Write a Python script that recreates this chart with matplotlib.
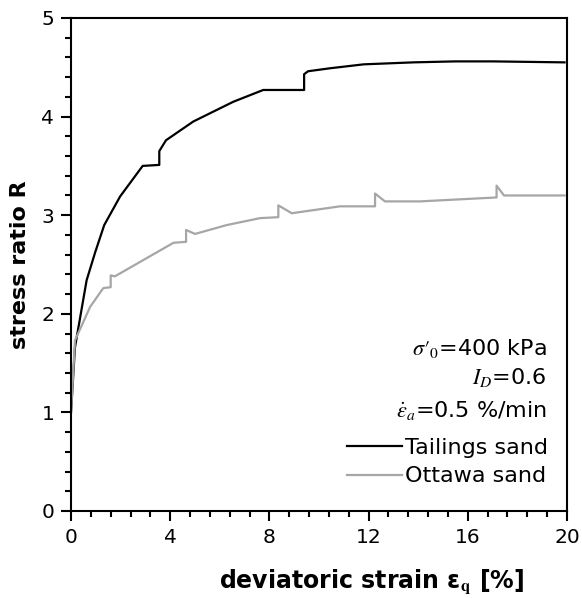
import matplotlib
matplotlib.use("Agg")
import matplotlib.pyplot as plt
from matplotlib.ticker import MultipleLocator
from matplotlib.lines import Line2D

plt.rcParams['font.family'] = ['DejaVu Sans']
plt.rcParams['mathtext.fontset'] = 'stix'

# Tailings sand (black)
tail_x = [0.0, 0.16, 0.63, 0.97, 1.34, 1.98, 2.89, 3.56, 3.56, 3.83, 4.93, 6.54,
          7.75, 9.40, 9.40, 9.56, 10.44, 11.8, 13.8, 15.5, 17.0, 19.9]
tail_y = [1.00, 1.66, 2.34, 2.62, 2.90, 3.19, 3.50, 3.51, 3.65, 3.76, 3.95, 4.15,
          4.27, 4.27, 4.43, 4.46, 4.49, 4.53, 4.55, 4.56, 4.56, 4.55]

# Ottawa sand (grey)
ott_x = [0.0, 0.16, 0.77, 1.30, 1.60, 1.60, 1.77, 4.13, 4.64, 4.64, 5.00, 6.28, 7.62,
         8.36, 8.36, 8.90, 10.85, 12.26, 12.26, 12.66, 14.07, 17.16, 17.16, 17.46, 19.9]
ott_y = [1.00, 1.73, 2.07, 2.26, 2.27, 2.39, 2.38, 2.72, 2.73, 2.85, 2.81, 2.90, 2.97,
         2.98, 3.10, 3.02, 3.09, 3.09, 3.22, 3.14, 3.14, 3.18, 3.30, 3.20, 3.20]

fig = plt.figure(figsize=(5.82, 5.98), dpi=100)
ax = fig.add_axes([71 / 582, 1 - 511 / 598, 496 / 582, 493 / 598])

ax.plot(tail_x, tail_y, color='black', lw=1.6)
ax.plot(ott_x, ott_y, color='#a6a6a6', lw=1.6)

ax.set_xlim(0, 20)
ax.set_ylim(0, 5)
ax.xaxis.set_major_locator(MultipleLocator(4))
ax.xaxis.set_minor_locator(MultipleLocator(0.8))
ax.yaxis.set_major_locator(MultipleLocator(1))
ax.yaxis.set_minor_locator(MultipleLocator(0.2))
ax.tick_params(which='major', direction='out', length=7, width=1.5, labelsize=14.5, pad=5)
ax.tick_params(which='minor', direction='out', length=4.5, width=1.5)
for s in ax.spines.values():
    s.set_linewidth(1.5)

ax.set_xlabel(r'deviatoric strain ε$_\mathbf{q}$ [%]', fontsize=17, fontweight='bold')
ax.xaxis.set_label_coords(0.607, -0.113)
ax.set_ylabel('stress ratio R', fontsize=16, fontweight='bold', labelpad=8)

ax.text(19.19, 1.65, r"$\sigma\prime_0$=400 kPa", ha='right', va='center', fontsize=16)
ax.text(19.19, 1.35, r"$I_D$=0.6", ha='right', va='center', fontsize=16)
ax.text(19.19, 1.02, r"$\dot{\varepsilon}_a$=0.5 %/min", ha='right', va='center', fontsize=16)

handles = [Line2D([], [], color='black', lw=1.6), Line2D([], [], color='#a6a6a6', lw=1.6)]
ax.legend(handles, ['Tailings sand', 'Ottawa sand'], loc='lower right',
          bbox_to_anchor=(0.962, 0.05), frameon=False, fontsize=16,
          handlelength=2.45, handletextpad=0.15, labelspacing=0.38,
          borderpad=0, borderaxespad=0)

fig.savefig('out.png', dpi=100)
